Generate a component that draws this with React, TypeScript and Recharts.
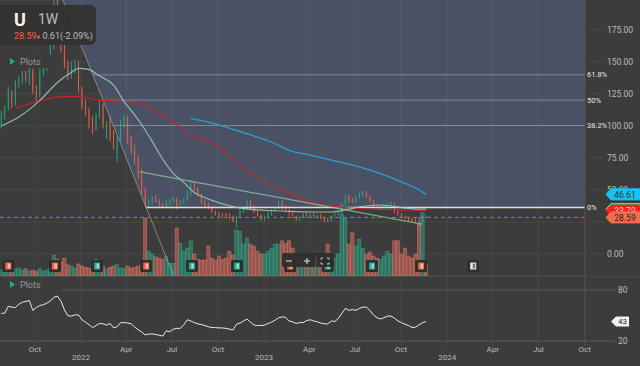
import React from 'react';
import {
  ComposedChart, Bar, Line, XAxis, YAxis, CartesianGrid,
  ReferenceLine, ReferenceArea, ReferenceDot, Scatter,
} from 'recharts';

// ---------- data (weekly, first week = 2021-07-26, days counted from 2022-01-01) ----------
const FIRST_WEEK_DAY = -159;
const opens = [100,108,113,126,117,133,136,141,136,143,128,124,141,145,147,162,197,184,162,148,140,145,148,128,116,112,104,98,108,116,96,105,94,78,90,100,106,90,80,74,62,49,38,41,43,41,38,37,40,41,43,38,40,43,47,55,51,46,40,38,36,33,31,30,31,30,28.5,26,29,34,35,41,37,33,30,27,29,32,34,36,40,36,34,32,29,27,29,31,29,31,29,30,28,27,26,29,31,32,39,45,42,41,44,46,48,45,41,37,36,37,38,38,39,33,31,29,28,27,27,28,24.5,29.2];
const highs = [112,116,131,128,136,139,143,143,146,145,132,145,149,149,165,199,206,188,166,151,150,152,151,131,121,114,108,110,121,118,104,108,97,92,105,109,108,92,85,77,66,52,43,45,46,43,40,42,43,45,44,42,44,50,58,56,52,47,42,40,37,34,33,32,32,32,30,30,35,37,42,42,38,34,31,30,33,35,37,42,42,38,35,33,30,30,32,32,32,32,31,31,29,28,30,32,33,40,46,46,44,45,48,50,49,46,42,38,38,39,40,41,40,34,32,30,29,28,28,29,30,29.9];
const lows = [98,105,112,114,116,130,133,134,132,125,119,122,139,143,146,160,180,157,145,136,137,141,126,113,108,98,94,96,106,98,90,88,82,72,88,98,86,78,70,58,47,36.4,37,39,40,37,36.5,36.5,38,40,35,37,39,42,46,49,45,39,36,35,32,30,29,28,29,27,25,21,28,32,34,35,32,29,26,26,28,30,33,35,34,33,30,28,26,26,28,28,28,28,28,27,25,25,25.5,28,30,31,38,40,40,40,43,45,44,40,36,35,35,36,37,37,32,30,28,27,26,25,25,21,24,28.2];
const closes = [109,113,128,116,134,137,141,137,144,128,124,142,147,147,162,196,185,160,148,140,145,148,128,116,112,104,98,108,118,101,102,92,85,90,102,106,88,80,74,60,50,38,41,43,41,38,37,40,41,43,38,40,43,47,55,51,47,40,38,36,33,31,30,29,30,28,26,29,34,36,41,37,33,30,28,29,32,34,36,40,36,34,32,29,27,29,31,29,31,29,30,28,26,26.5,29,31,32,39,45,42,41,44,47,49,45,41,37,36,37,38,39,40,33,31,29,28,27,26,26,24.5,29.2,28.59];
const volumes = [15,10,22,12,18,20,15,18,12,15,12,18,12,15,20,52,42,35,45,28,25,20,30,25,22,20,18,42,35,25,18,22,25,28,20,18,25,20,22,25,30,145,62,55,48,45,42,48,32,32,120,82,62,70,88,55,42,40,40,75,45,40,50,42,45,62,52,115,112,80,95,80,75,62,55,55,62,70,80,80,88,82,88,70,50,45,55,40,45,38,42,35,40,80,50,45,55,155,145,80,108,75,92,70,55,60,50,45,42,50,62,55,88,88,55,70,50,45,55,130,158,30];
const rsiValues = [52.6,52.6,60.8,59.8,59.4,63.2,65.6,66.6,67.5,56,59.4,61.8,62.7,64.6,67,71.4,72.8,67,56.5,49.8,49.3,50.7,50.7,45,42.1,39.2,35.8,38.2,40.6,40.2,38.7,40.6,35.4,36.8,41.6,41.6,41.1,40.2,36.3,33.4,30.6,27.2,28.2,28.2,27.7,26.7,25.8,32,31,33.9,34.9,34.9,39.2,45,43.5,41.6,40.2,39.2,38.2,36.8,35.8,35.8,35.4,35.4,34.9,33.9,33,39.7,41.1,43.5,45.9,42.1,38.7,38.2,38.2,38.7,40.6,42.1,44.5,47.4,48.3,47.8,43.5,42.6,40.6,41.6,41.6,44,45,43.5,42.6,41.1,40.2,40.2,43.5,43,46.4,52.6,58.4,56,57,56,58.4,59.8,59.8,56,50.7,47.4,45.9,47.4,49.3,49.3,46.9,43.5,41.6,39.7,38.2,35.8,36.3,39.2,41.5,43];

// moving averages at sample weeks: [weekIndex, value]
const mintMA = [[0,100],[5,107],[11,120],[16,134],[20,142],[22,145],[25,144],[28,139],[32,132],[35,119],[37,112],[40,101],[43,88],[46,74],[49,63],[52,56],[55,48],[58,44],[61,41],[66,37],[73,34.4],[80,33.6],[88,32.8],[94,32.8],[98,34.4],[102,36.7],[107,38.3],[111,37.5],[115,35.9],[121,35]];
const redMA = [[4,114],[9,118],[17,123],[22,123],[28,120],[34,119.5],[42,115.6],[45,110],[49,103],[55,91.4],[59,88],[63,81],[71,63],[80,50],[89,40],[99,36],[114,34.4],[121,33.79]];
const blueMA = [[54,106],[59,103],[65,98.4],[71,93],[77,87.5],[82,81],[88,77.3],[94,73.4],[99,70.3],[105,65.6],[110,60.9],[114,56.3],[118,51.6],[121,46.61]];

const monthTicks = [-92, 0, 90, 181, 273, 365, 455, 546, 638, 730, 821, 912, 1004];
const monthLabels = ['Oct', '', 'Apr', 'Jul', 'Oct', '', 'Apr', 'Jul', 'Oct', '', 'Apr', 'Jul', 'Oct'];
const yearLabels = ['', '2022', '', '', '', '2023', '', '', '', '2024', '', '', ''];
const priceTicks = [0, 25, 50, 75, 100, 125, 150, 175];
const hiddenPriceLabels = [25]; // covered by the price tags in the reference
const rsiTicks = [20, 80];

const FIB_LOW = 36.4, FIB_HIGH = 204, FIB_LOW_DAY = 130, FIB_HIGH_DAY = -42;
const fibRatios = [0.382, 0.5, 0.618];
const fibLabels = ['38.2%', '50%', '61.8%'];
const channel = [{ day: 118, price: 64.1 }, { day: 680, price: 23.4 }];
const earningsDays = [-145, -52, 32, 130, 221, 311, 417, 492, 580, 678, 782];
const earningsKinds = ['dn', 'dn', 'up', 'dn', 'up', 'up', 'dn', 'up', 'up', 'dn', 'next'];

const LAST = 28.59;
const CHANGE = '0.61(-2.09%)';
const RSI_LAST = 43;

// ---------- styling / axis frames ----------
const X_DOMAIN: [number, number] = [-161.5, 1004.8];
const PRICE_DOMAIN: [number, number] = [-17.1875, 198.4375];
const VOL_DOMAIN: [number, number] = [0, 690];
const RSI_DOMAIN: [number, number] = [14.118, 96.471];
const BG = '#3c3c3c';
const GREEN = '#20ad8a';
const RED = '#f2624a';
const GRID = '#484848';
const FONT = 'Roboto, "Noto Sans", sans-serif';

const weekDay = (i: number) => FIRST_WEEK_DAY + 7 * i;
const rows = opens.map((o, i) => ({
  t: weekDay(i), o, h: highs[i], l: lows[i], c: closes[i], v: volumes[i], rsi: rsiValues[i],
}));
const mintRows = mintMA.map(([i, v]) => ({ t: weekDay(i), mint: v }));
const redRows = redMA.map(([i, v]) => ({ t: weekDay(i), red: v }));
const blueRows = blueMA.map(([i, v]) => ({ t: weekDay(i), blue: v }));

const earningsData = earningsDays.map((d, i) => ({ t: d, y: -9.4, kind: earningsKinds[i] }));

const dayAtPrice = (p: number) =>
  FIB_LOW_DAY + ((FIB_LOW - p) / (FIB_HIGH - FIB_LOW)) * (FIB_LOW_DAY - FIB_HIGH_DAY);
const fibPrice = (r: number) => FIB_LOW + r * (FIB_HIGH - FIB_LOW);
const DIAG_TOP = dayAtPrice(PRICE_DOMAIN[1]);
const DIAG_BOTTOM = dayAtPrice(-16.5);

const Candle = (props: any) => {
  const { x, y, width, height, payload } = props;
  if (x == null || y == null) return null;
  const top = Math.min(y, y + height);
  const bottom = Math.max(y, y + height);
  const { o, h, l, c } = payload;
  const span = h - l || 1;
  const py = (v: number) => bottom - ((v - l) / span) * (bottom - top);
  const up = c >= o;
  const col = up ? GREEN : RED;
  const cx = x + width / 2;
  const bt = py(Math.max(o, c));
  const bb = py(Math.min(o, c));
  return (
    <g>
      <line x1={cx} x2={cx} y1={top} y2={bottom} stroke={col} strokeWidth={0.9} />
      <rect x={x} y={bt} width={width} height={Math.max(1, bb - bt)} fill={col} />
    </g>
  );
};

const VolBar = (props: any) => {
  const { x, y, width, height, payload } = props;
  if (x == null || y == null) return null;
  const up = payload.c >= payload.o;
  const fill = up ? 'rgba(40,165,130,0.5)' : 'rgba(235,110,98,0.5)';
  const stroke = up ? 'rgba(60,185,148,0.75)' : 'rgba(240,125,112,0.75)';
  return <rect x={x} y={y} width={width} height={Math.max(0, height)} fill={fill} stroke={stroke} strokeWidth={0.5} />;
};

const FibArea = (props: any) => {
  const { x, y, width, height } = props;
  if (x == null) return null;
  const lowX = x + ((FIB_LOW_DAY - DIAG_TOP) / (X_DOMAIN[1] - DIAG_TOP)) * width;
  const pts = `${x},${y} ${x + width},${y} ${x + width},${y + height} ${lowX},${y + height}`;
  return <polygon points={pts} fill="#4a5164" />;
};

const EarningsMark = (props: any) => {
  const { cx, cy, payload } = props;
  if (cx == null) return null;
  const col = payload.kind === 'up' ? GREEN : payload.kind === 'dn' ? RED : '#e8e8e8';
  return (
    <g>
      <rect x={cx - 6} y={cy - 6} width={12} height={12} rx={1.5} fill="#2e2e2e" />
      <rect x={cx - 3} y={cy - 3.5} width={6} height={7} fill={col} />
      <rect x={cx - 0.5} y={cy - 2.5} width={2.5} height={5} fill={payload.kind === 'next' ? '#777' : 'rgba(255,255,255,0.55)'} />
    </g>
  );
};

const makeTag = (bg: string, fg: string, text: string, border?: string) => (props: any) => {
  const { cx, cy } = props;
  if (cx == null) return null;
  const l = cx + 21;
  const pts = `${l},${cy} ${l + 5},${cy - 5.5} ${cx + 55},${cy - 5.5} ${cx + 55},${cy + 5.5} ${l + 5},${cy + 5.5}`;
  return (
    <g>
      <polygon points={pts} fill={bg} stroke={border || bg} strokeWidth={1} />
      {text && (
        <text x={cx + 40} y={cy + 0.5} fill={fg} fontSize={8.5} fontFamily={FONT} textAnchor="middle" dominantBaseline="central">{text}</text>
      )}
    </g>
  );
};

const DateTick = (props: any) => {
  const { x, y, payload } = props;
  const idx = monthTicks.indexOf(payload.value);
  if (idx < 0) return null;
  return (
    <g>
      {monthLabels[idx] && (
        <text x={x} y={y + 3} fill="#b8b8b8" fontSize={8} fontFamily={FONT} textAnchor="middle" dominantBaseline="central">{monthLabels[idx]}</text>
      )}
      {yearLabels[idx] && (
        <text x={x} y={y + 11.5} fill="#b8b8b8" fontSize={8} fontFamily={FONT} textAnchor="middle" dominantBaseline="central">{yearLabels[idx]}</text>
      )}
    </g>
  );
};

const PlotsLabel = ({ top }: { top: number }) => (
  <div style={{ position: 'absolute', left: 0, top, width: 62, height: 13, background: BG, display: 'flex', alignItems: 'center', fontFamily: FONT, fontSize: 9, color: '#9a9a9a' }}>
    <svg width={20} height={13}><polygon points="10,3 15,6.5 10,10" fill={GREEN} /></svg>
    <span>Plots</span>
  </div>
);

export default function App() {
  const lastBlue = blueMA[blueMA.length - 1][1];
  const lastRed = redMA[redMA.length - 1][1];
  const lastMint = mintMA[mintMA.length - 1][1];
  return (
    <div style={{ position: 'absolute', left: 0, top: 0, width: 640, height: 366, background: BG, overflow: 'hidden', fontFamily: FONT }}>
      {/* main price pane */}
      <div style={{ position: 'absolute', left: 0, top: 0 }}>
        <ComposedChart width={640} height={276} data={rows} margin={{ top: 0, right: 0, bottom: 0, left: 0 }}>
          <XAxis xAxisId={0} dataKey="t" type="number" domain={X_DOMAIN} allowDataOverflow hide />
          <XAxis xAxisId="vx" dataKey="t" type="number" domain={X_DOMAIN} allowDataOverflow hide />
          <YAxis yAxisId={0} orientation="right" width={55} domain={PRICE_DOMAIN} allowDataOverflow
            ticks={priceTicks} interval={0}
            tickFormatter={(v: number) => (hiddenPriceLabels.includes(v) ? '' : v.toFixed(2))}
            tick={{ fill: '#bdbdbd', fontSize: 8.5, fontFamily: FONT }}
            tickLine={{ stroke: GRID }} tickSize={19} tickMargin={3}
            axisLine={{ stroke: '#4e4e4e' }} />
          <YAxis yAxisId="vol" domain={VOL_DOMAIN} hide />

          <ReferenceArea xAxisId={0} yAxisId={0} x1={DIAG_TOP} x2={X_DOMAIN[1]} y1={FIB_LOW} y2={PRICE_DOMAIN[1]}
            shape={FibArea} ifOverflow="visible" />
          <CartesianGrid yAxisId={0} xAxisId={0} vertical={false} stroke="rgba(255,255,255,0.07)" />
          {monthTicks.map((d) => (
            <ReferenceLine key={'v' + d} xAxisId={0} yAxisId={0} x={d} stroke="rgba(255,255,255,0.05)" />
          ))}

          {fibRatios.map((r, i) => (
            <ReferenceLine key={'f' + r} xAxisId={0} yAxisId={0} stroke="rgba(200,205,215,0.45)" strokeWidth={1}
              segment={[{ x: dayAtPrice(fibPrice(r)), y: fibPrice(r) }, { x: X_DOMAIN[1], y: fibPrice(r) }]}
              label={{ value: fibLabels[i], position: 'right', fill: '#e6e6e6', fontSize: 7.5, fontFamily: FONT, offset: 2 }} />
          ))}
          <ReferenceLine xAxisId={0} yAxisId={0} stroke="#dcdcdc" strokeWidth={1.5}
            segment={[{ x: FIB_LOW_DAY, y: FIB_LOW }, { x: X_DOMAIN[1], y: FIB_LOW }]}
            label={{ value: '0%', position: 'right', fill: '#e6e6e6', fontSize: 7.5, fontFamily: FONT, offset: 2 }} />
          <ReferenceLine xAxisId={0} yAxisId={0} stroke="rgba(200,200,200,0.5)" strokeWidth={1}
            segment={[{ x: DIAG_TOP, y: PRICE_DOMAIN[1] }, { x: DIAG_BOTTOM, y: -16.5 }]} />

          <Bar xAxisId="vx" yAxisId="vol" dataKey="v" barSize={3.3} shape={VolBar} isAnimationActive={false} />
          <Bar xAxisId={0} yAxisId={0} dataKey={(d: any) => [d.l, d.h]} barSize={2.6} shape={Candle} isAnimationActive={false} />

          <Line xAxisId={0} yAxisId={0} data={redRows} dataKey="red" stroke="#c2262c" strokeWidth={1.2} dot={false} activeDot={false} type="monotone" isAnimationActive={false} />
          <Line xAxisId={0} yAxisId={0} data={blueRows} dataKey="blue" stroke="#2b9ed8" strokeWidth={1.3} dot={false} activeDot={false} type="monotone" isAnimationActive={false} />
          <Line xAxisId={0} yAxisId={0} data={mintRows} dataKey="mint" stroke="rgba(150,210,190,0.85)" strokeWidth={1.2} dot={false} activeDot={false} type="monotone" isAnimationActive={false} />

          <ReferenceLine xAxisId={0} yAxisId={0} stroke="rgba(150,200,160,0.75)" strokeWidth={1.2}
            segment={[{ x: channel[0].day, y: channel[0].price }, { x: channel[1].day, y: channel[1].price }]} />
          <ReferenceLine xAxisId={0} yAxisId={0} y={LAST} stroke="#e0603f" strokeDasharray="4 3" strokeWidth={1} />

          <Scatter xAxisId={0} yAxisId={0} data={earningsData} dataKey="y" shape={EarningsMark} isAnimationActive={false} />
        </ComposedChart>
      </div>

      {/* price tags, drawn over the axis labels with the same scales */}
      <div style={{ position: 'absolute', left: 0, top: 0 }}>
        <ComposedChart width={640} height={276} data={rows} margin={{ top: 0, right: 55, bottom: 0, left: 0 }}>
          <XAxis dataKey="t" type="number" domain={X_DOMAIN} allowDataOverflow hide />
          <YAxis domain={PRICE_DOMAIN} allowDataOverflow hide />
          <Line dataKey="c" stroke="none" dot={false} activeDot={false} isAnimationActive={false} />
          <ReferenceDot x={X_DOMAIN[1]} y={lastBlue} ifOverflow="visible"
            shape={makeTag('#19c2f0', '#10303a', lastBlue.toFixed(2))} />
          <ReferenceDot x={X_DOMAIN[1]} y={lastMint} ifOverflow="visible"
            shape={makeTag('#2f8f5a', '#dfffee', '', '#8fe0b0')} />
          <ReferenceDot x={X_DOMAIN[1]} y={lastRed} ifOverflow="visible"
            shape={makeTag('#ff1e1e', '#ffd0d0', lastRed.toFixed(2))} />
          <ReferenceDot x={X_DOMAIN[1]} y={LAST} ifOverflow="visible"
            shape={makeTag('#f26c4f', '#3a1a12', LAST.toFixed(2))} />
        </ComposedChart>
      </div>

      <div style={{ position: 'absolute', left: 0, top: 276, width: 640, height: 1, background: '#4a4a4a' }} />

      {/* RSI pane */}
      <div style={{ position: 'absolute', left: 0, top: 276 }}>
        <ComposedChart width={640} height={90} data={rows} margin={{ top: 0, right: 0, bottom: 0, left: 0 }}>
          <XAxis dataKey="t" type="number" domain={X_DOMAIN} allowDataOverflow ticks={monthTicks} interval={0}
            height={20} tick={DateTick} tickLine={false} axisLine={false} tickSize={0} tickMargin={0} />
          <YAxis orientation="right" width={55} domain={RSI_DOMAIN} allowDataOverflow ticks={rsiTicks} interval={0}
            tick={{ fill: '#bdbdbd', fontSize: 8.5, fontFamily: FONT }} tickLine={{ stroke: '#585858' }} tickSize={30} tickMargin={3}
            axisLine={{ stroke: '#4e4e4e' }} />
          {monthTicks.map((d) => (
            <ReferenceLine key={'rv' + d} x={d} stroke="rgba(255,255,255,0.05)" />
          ))}
          {rsiTicks.map((v) => (
            <ReferenceLine key={'rh' + v} y={v} stroke="#585858" />
          ))}
          <Line dataKey="rsi" stroke="#ececec" strokeWidth={1} dot={false} activeDot={false} type="linear" isAnimationActive={false} />
          <ReferenceDot x={X_DOMAIN[1]} y={RSI_LAST} ifOverflow="visible"
            shape={(p: any) => {
              const { cx, cy } = p;
              if (cx == null) return null;
              const l = cx + 26;
              return (
                <g>
                  <polygon points={`${l},${cy} ${l + 5},${cy - 5} ${cx + 44},${cy - 5} ${cx + 44},${cy + 5} ${l + 5},${cy + 5}`} fill="#f2f2f2" />
                  <text x={cx + 37.5} y={cy + 0.5} fontSize={8} fill="#222" fontFamily={FONT} textAnchor="middle" dominantBaseline="central">{RSI_LAST}</text>
                </g>
              );
            }} />
        </ComposedChart>
      </div>

      {/* overlays: symbol box, plot labels, zoom controls */}
      <div style={{ position: 'absolute', left: 0, top: 5, width: 96, height: 40, background: 'rgba(50,50,50,0.95)', borderRadius: '0 6px 6px 0' }}>
        <div style={{ position: 'absolute', left: 14, top: 4, fontSize: 18, fontWeight: 700, color: '#f4f4f4' }}>U</div>
        <div style={{ position: 'absolute', left: 38, top: 6, fontSize: 14, color: '#bcbcbc' }}>1W</div>
        <div style={{ position: 'absolute', left: 14, top: 26, fontSize: 9, color: '#bcbcbc', whiteSpace: 'nowrap' }}>
          <span style={{ color: RED }}>{LAST.toFixed(2)}</span>
          <span style={{ color: RED, fontSize: 7 }}>{'\u2666'}</span>
          <span> {CHANGE}</span>
        </div>
      </div>
      <PlotsLabel top={55} />
      <PlotsLabel top={278} />
      <div style={{ position: 'absolute', left: 282, top: 253, width: 52, height: 14, background: 'rgba(44,44,44,0.92)', borderRadius: 2 }}>
        <svg width={52} height={14}>
          <line x1={4} x2={10} y1={7} y2={7} stroke="#cfcfcf" strokeWidth={1.2} />
          <line x1={22} x2={28} y1={7} y2={7} stroke="#cfcfcf" strokeWidth={1.2} />
          <line x1={25} x2={25} y1={4} y2={10} stroke="#cfcfcf" strokeWidth={1.2} />
          <line x1={34} x2={34} y1={1} y2={13} stroke="#555" strokeWidth={1} />
          <path d="M39 5.5 V4 H41 M45 4 H47 V5.5 M47 8.5 V10 H45 M41 10 H39 V8.5" stroke="#cfcfcf" fill="none" strokeWidth={1} />
        </svg>
      </div>
    </div>
  );
}
